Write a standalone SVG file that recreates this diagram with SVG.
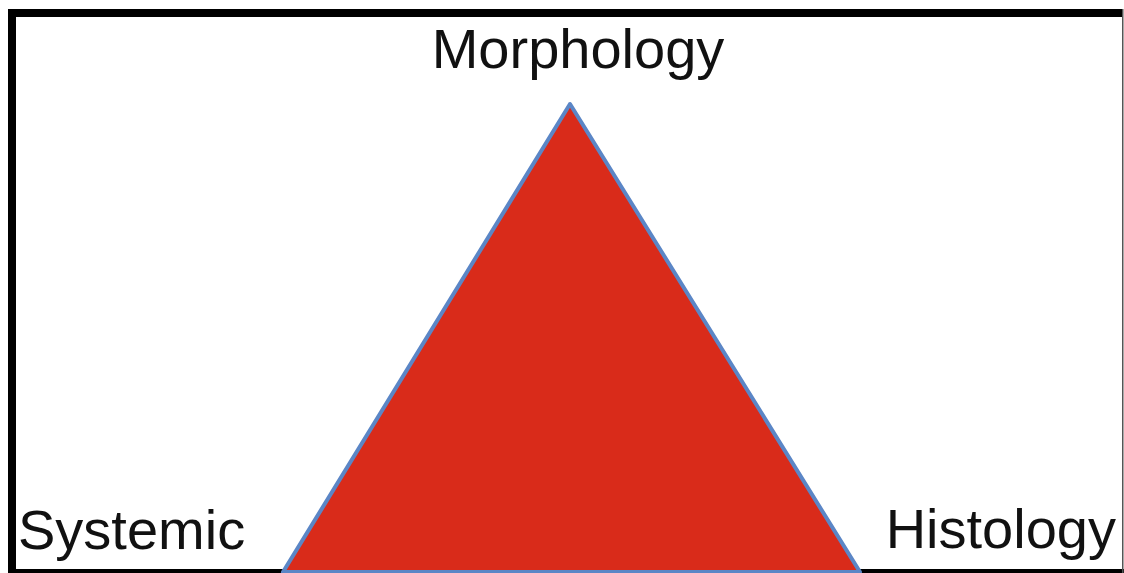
<svg xmlns="http://www.w3.org/2000/svg" width="1124" height="573" viewBox="0 0 1124 573">
<style>
.lbl{font-family:"Liberation Sans",Arial,sans-serif;font-size:56px;fill:#111}
</style>
<rect width="1124" height="573" fill="#fff"/>
<g id="frame">
<rect x="8" y="9" width="8" height="564" fill="#000"/>
<rect x="8" y="9" width="1115" height="8" fill="#000"/>
<rect x="8" y="569" width="1116" height="4" fill="#000"/>
<rect x="1122" y="9" width="1.5" height="564" fill="#555"/>
</g>
<g id="triangle">
<polygon points="570,104 283,572 860,572" fill="#d92b1a" stroke="#5b86c6" stroke-width="4" stroke-linejoin="round"/>
</g>
<g id="morphology"><text class="lbl" x="578" y="68" text-anchor="middle">Morphology</text></g>
<g id="systemic"><text class="lbl" x="18" y="549">Systemic</text></g>
<g id="histology"><text class="lbl" x="1116" y="548" text-anchor="end">Histology</text></g>
</svg>
